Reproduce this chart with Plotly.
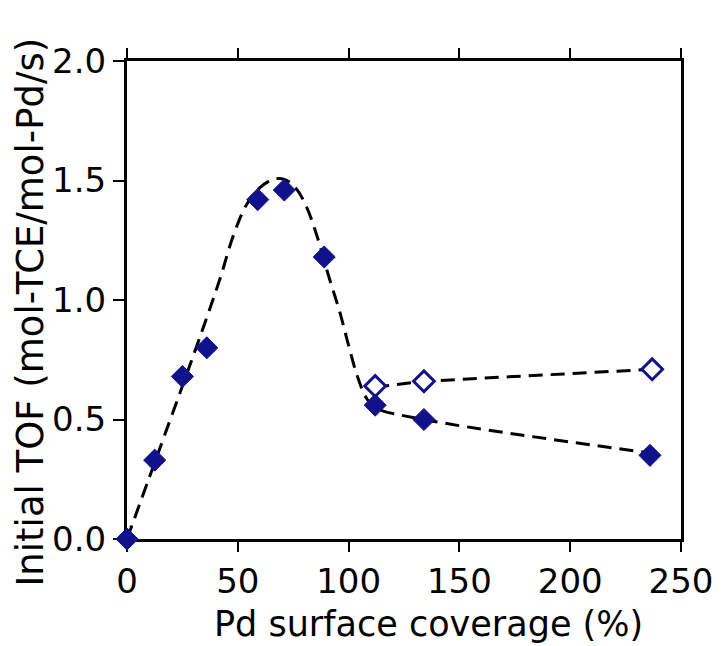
import plotly.graph_objects as go

# Measured data (filled diamonds)
filled_x = [0, 12.5, 25, 36, 59, 71, 89, 112, 134, 236]
filled_y = [0.0, 0.33, 0.68, 0.80, 1.42, 1.46, 1.18, 0.56, 0.50, 0.35]

# Open diamonds
open_x = [112, 134, 237]
open_y = [0.64, 0.66, 0.71]

# Dashed guide curve through filled data
fit_x = [0, 12.5, 25, 35, 42, 48, 54, 60, 66, 71, 76, 81, 86, 91, 96, 100, 104,
         108, 112, 134, 236]
fit_y = [0.0, 0.32, 0.64, 0.90, 1.09, 1.27, 1.40, 1.47, 1.505, 1.505, 1.47, 1.39,
         1.26, 1.10, 0.95, 0.81, 0.68, 0.59, 0.55, 0.50, 0.36]

# Dashed guide line through open data
open_fit_x = [112, 134, 237]
open_fit_y = [0.635, 0.66, 0.71]

x_ticks = [0, 50, 100, 150, 200, 250]
y_ticks = [0.0, 0.5, 1.0, 1.5, 2.0]

navy = "#11118c"
font_family = "DejaVu Sans"
dash = "14px,8px"

fig = go.Figure()
fig.add_trace(go.Scatter(x=fit_x, y=fit_y, mode="lines", line_shape="spline",
                         line=dict(color="black", width=3, dash=dash, smoothing=1),
                         showlegend=False, hoverinfo="skip"))
fig.add_trace(go.Scatter(x=open_fit_x, y=open_fit_y, mode="lines",
                         line=dict(color="black", width=3, dash=dash),
                         showlegend=False, hoverinfo="skip"))
fig.add_trace(go.Scatter(x=open_x, y=open_y, mode="markers", cliponaxis=False,
                         marker=dict(symbol="diamond", size=16, color="white",
                                     line=dict(color=navy, width=3)),
                         showlegend=False))
fig.add_trace(go.Scatter(x=filled_x, y=filled_y, mode="markers", cliponaxis=False,
                         marker=dict(symbol="diamond", size=17, color=navy,
                                     line=dict(color=navy, width=1)),
                         showlegend=False))

fig.update_layout(
    width=725, height=646,
    margin=dict(l=127, r=36, t=61, b=107),
    paper_bgcolor="white", plot_bgcolor="white",
    font=dict(family=font_family, color="black", size=34),
    xaxis=dict(range=[0, 250], tickvals=x_ticks, ticktext=[str(v) for v in x_ticks],
               showgrid=False, zeroline=False, showline=True, linecolor="black",
               linewidth=3, mirror="ticks", ticks="outside", ticklen=10, tickwidth=2,
               tickcolor="black", layer="below traces"),
    yaxis=dict(range=[0, 2], tickvals=y_ticks, ticktext=[f"{v:.1f}" for v in y_ticks],
               showgrid=False, zeroline=False, showline=True, linecolor="black",
               linewidth=3, mirror=True, ticks="outside", ticklen=11, tickwidth=2,
               tickcolor="black", layer="below traces"),
    annotations=[
        dict(text="Pd surface coverage (%)", xref="paper", yref="paper",
             x=0.545, y=-0.178, xanchor="center", yanchor="middle",
             showarrow=False, font=dict(size=35)),
        dict(text="Initial TOF (mol-TCE/mol-Pd/s)", xref="paper", yref="paper",
             x=-0.174, y=0.475, xanchor="center", yanchor="middle", textangle=-90,
             showarrow=False, font=dict(size=37)),
    ],
)

fig.write_html("out.html")
